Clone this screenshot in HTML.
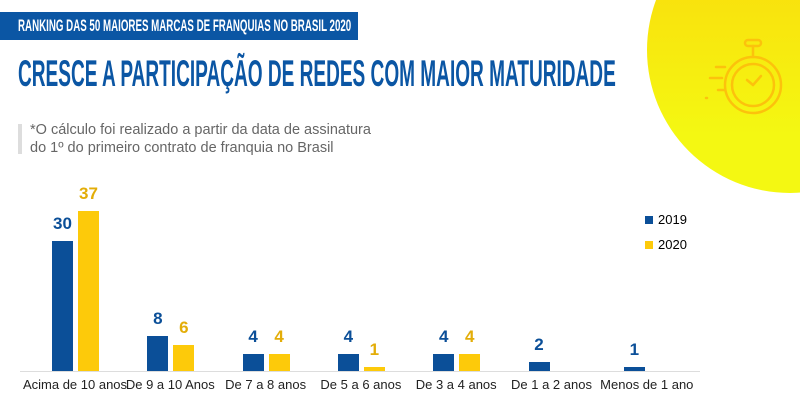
<!DOCTYPE html>
<html><head><meta charset="utf-8"><style>
body{margin:0;width:800px;height:400px;overflow:hidden;background:#fff;font-family:"Liberation Sans",sans-serif;position:relative}
.a{position:absolute}
.circ{left:647px;top:-93px;width:286px;height:286px;border-radius:50%;background:linear-gradient(#fcd40a,#f4f812 80%)}
.ban{left:0;top:12px;width:358px;height:28px;background:#0b56a4}
.bt{left:18px;top:13px;color:#fff;font-weight:bold;font-size:17px;white-space:nowrap;transform:scaleX(0.573);transform-origin:left;line-height:26px}
.tt{left:18px;top:54px;color:#0b56a4;font-weight:bold;font-size:37px;white-space:nowrap;transform:scaleX(0.515);transform-origin:left;line-height:40px}
.note{left:30px;top:121px;color:#666;font-size:14.5px;line-height:18px}
.bar{position:absolute;bottom:29px;width:21px}
.b{background:#0b4f98}.y{background:#fdca0a}
.v{position:absolute;width:40px;text-align:center;font-weight:bold;font-size:17px}
.lb{position:absolute;top:377px;font-size:13px;color:#222;white-space:nowrap;transform:translateX(-50%)}
</style></head><body>
<div class="a circ"></div>
<svg class="a" style="left:700px;top:35px" width="130" height="90" viewBox="0 0 130 90" fill="none" stroke="#fcc20c" stroke-width="2.5" stroke-linecap="round">
<circle cx="53" cy="50" r="28"/><circle cx="53" cy="50" r="21"/>
<rect x="45" y="5" width="16" height="6" rx="3"/><line x1="53" y1="11" x2="53" y2="22"/>
<line x1="53" y1="50" x2="47" y2="45"/><line x1="53" y1="50" x2="61" y2="41"/>
<line x1="10" y1="43" x2="22" y2="43"/><line x1="16" y1="32" x2="25" y2="32"/><line x1="18" y1="55" x2="24" y2="55"/><line x1="6" y1="63" x2="7" y2="63"/>
</svg>
<div class="a ban"></div>
<div class="a bt">RANKING DAS 50 MAIORES MARCAS DE FRANQUIAS NO BRASIL 2020</div>
<div class="a tt">CRESCE A PARTICIPAÇÃO DE REDES COM MAIOR MATURIDADE</div>
<div class="a" style="left:18px;top:124px;width:4px;height:30px;background:#ddd"></div>
<div class="a note">*O cálculo foi realizado a partir da data de assinatura<br>do 1º do primeiro contrato de franquia no Brasil</div>
<div class="a" style="left:20px;top:371px;width:680px;height:1px;background:#ddd"></div>
<div class="a" style="left:645px;top:216px;width:8px;height:8px;background:#0b4f98"></div>
<div class="a" style="left:658px;top:212px;font-size:13px">2019</div>
<div class="a" style="left:645px;top:241px;width:8px;height:8px;background:#fdca0a"></div>
<div class="a" style="left:658px;top:237px;font-size:13px">2020</div>
<div id="c"></div>
<script>
var d=[[30,37,"Acima de 10 anos"],[8,6,"De 9  a 10 Anos"],[4,4,"De 7 a 8 anos"],[4,1,"De 5 a 6 anos"],[4,4,"De 3 a 4 anos"],[2,null,"De 1 a 2 anos"],[1,null,"Menos de 1 ano"]];
var h="";d.forEach(function(g,i){var c=75+i*95.3;
function bar(v,x,cl,col){if(v==null)return;var hh=v*4.33;h+='<div class="bar '+cl+'" style="left:'+x+'px;height:'+hh+'px"></div><div class="v" style="left:'+(x-9.5)+'px;top:'+(371-hh-27)+'px;color:'+col+'">'+v+'</div>';}
bar(g[0],c-23,"b","#0b4f98");bar(g[1],c+3,"y","#e3ad08");
h+='<div class="lb" style="left:'+c+'px">'+g[2]+'</div>';});
document.getElementById("c").innerHTML=h;
</script>
</body></html>
